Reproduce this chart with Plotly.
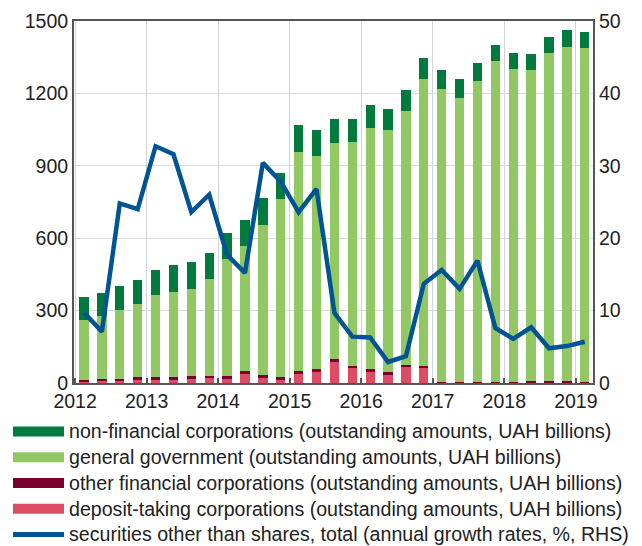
import plotly.graph_objects as go

quarters = [f"{y}Q{q}" for y in range(2012, 2019) for q in range(1, 5)] + ["2019Q1"]

deposit_taking = [8, 10, 10, 15, 14, 14, 15, 23, 18, 39, 22, 14, 39, 47, 88, 63, 47, 33, 68, 63, 1, 1, 1, 1, 2, 1, 1, 1, 1]
other_financial = [6, 7, 7, 8, 12, 11, 15, 5, 12, 12, 11, 12, 12, 12, 11, 9, 11, 11, 8, 9, 4, 4, 4, 4, 4, 6, 6, 6, 4]
general_government = [245, 261, 284, 304, 337, 353, 361, 405, 483, 515, 622, 737, 907, 881, 895, 928, 1000, 1003, 1051, 1188, 1215, 1176, 1245, 1329, 1295, 1289, 1359, 1385, 1383]
non_financial = [96, 95, 102, 101, 106, 109, 110, 107, 107, 110, 111, 109, 112, 110, 100, 96, 93, 89, 89, 87, 79, 79, 76, 67, 67, 67, 68, 69, 68]
growth_rate = [9.7, 7.1, 24.8, 24.0, 32.7, 31.6, 23.6, 26.0, 17.7, 15.2, 30.4, 27.8, 23.6, 26.8, 9.7, 6.4, 6.3, 2.9, 3.7, 13.7, 15.6, 13.0, 16.9, 7.6, 6.1, 7.7, 4.8, 5.1, 5.7]

year_ticks = list(range(2012, 2020))
left_ticks = [0, 300, 600, 900, 1200, 1500]
right_ticks = [0, 10, 20, 30, 40, 50]

def qpos(label):
    y, q = label.split("Q")
    return int(y) + (int(q) - 0.5) / 4

x = [qpos(q) for q in quarters]

C_NFC = "rgb(0,122,61)"
C_GG = "rgb(146,200,100)"
C_OFC = "rgb(122,0,48)"
C_DTC = "rgb(222,75,100)"
C_LINE = "rgb(0,84,148)"

names = [
    "non-financial corporations (outstanding amounts, UAH billions)",
    "general government (outstanding amounts, UAH billions)",
    "other financial corporations (outstanding amounts, UAH billions)",
    "deposit-taking corporations (outstanding amounts, UAH billions)",
    "securities other than shares, total (annual growth rates, %, RHS)",
]

fig = go.Figure()
bw = 0.13
for vals, col in [(deposit_taking, C_DTC), (other_financial, C_OFC), (general_government, C_GG), (non_financial, C_NFC)]:
    fig.add_trace(go.Bar(x=x, y=vals, marker=dict(color=col, line=dict(width=0)), width=bw, showlegend=False))

fig.add_trace(go.Scatter(x=x, y=growth_rate, yaxis="y2", mode="lines",
                         line=dict(color=C_LINE, width=4.5), showlegend=False))

# legend entries
for nm, col, w in [(names[0], C_NFC, 10), (names[1], C_GG, 10), (names[2], C_OFC, 10), (names[3], C_DTC, 10), (names[4], C_LINE, 5)]:
    fig.add_trace(go.Scatter(x=[x[0]], y=[0], mode="lines",
                             name=f'<span style="font-size:19.6px">{nm}</span>',
                             line=dict(color=col, width=w), showlegend=True, hoverinfo="skip"))

font = dict(family="Liberation Sans, Arial, sans-serif", size=19.5, color="#222")
fig.update_layout(
    width=642, height=546,
    margin=dict(l=66, r=57, t=13, b=171, autoexpand=False),
    barmode="stack", bargap=0,
    plot_bgcolor="white", paper_bgcolor="white",
    font=font,
    xaxis=dict(range=[2011.985, 2019.24], tickvals=year_ticks, ticktext=[str(y) for y in year_ticks],
               showgrid=True, gridcolor="#d0d4d8", gridwidth=1, zeroline=False,
               showline=True, linecolor="#555", linewidth=2, mirror=True,
               ticks="inside", ticklen=5, tickcolor="#555", tickwidth=2),
    yaxis=dict(range=[0, 1500], tickvals=left_ticks, showgrid=True, gridcolor="#d8dcdf", gridwidth=1,
               zeroline=False, showline=True, linecolor="#555", linewidth=2, ticks=""),
    yaxis2=dict(range=[0, 50], tickvals=right_ticks, overlaying="y", side="right", showgrid=False,
                zeroline=False, showline=True, linecolor="#555", linewidth=2, ticks=""),
    legend=dict(orientation="h", xref="container", yref="container", x=0.0, y=0.257,
                xanchor="left", yanchor="top", itemwidth=51, font=dict(size=17.5),
                entrywidth=630, entrywidthmode="pixels",
                bgcolor="rgba(0,0,0,0)", traceorder="normal", itemclick=False),
    showlegend=True,
)
fig.write_html("out.html")
